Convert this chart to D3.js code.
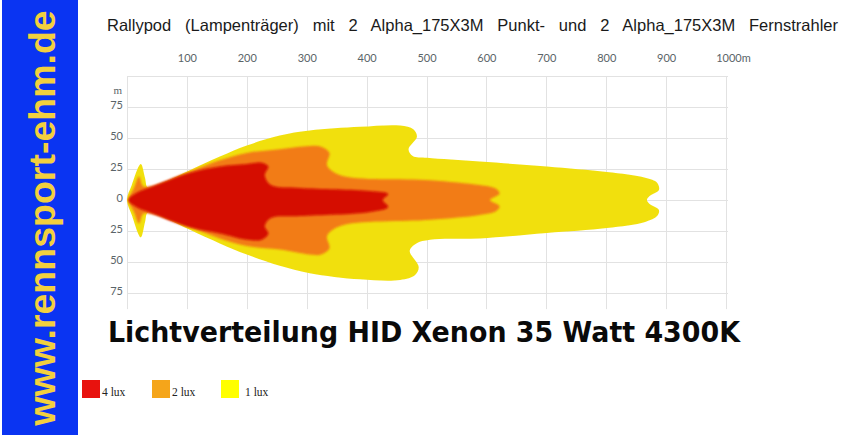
<!DOCTYPE html>
<html><head><meta charset="utf-8">
<script src="https://cdn.jsdelivr.net/npm/d3@7"></script>
<style>
html,body{margin:0;padding:0;background:#fff;}
svg{display:block;}
</style></head>
<body>
<svg id="chart" width="854" height="437"></svg>
<script>
// ---- data (distance m, lateral m) ----
const xTicks = [100,200,300,400,500,600,700,800,900,1000];
const yTicks = [-75,-50,-25,0,25,50,75];
const gridX = [0,100,200,300,400,500,600,700,800,900,1000];
const gridY = [-75,-50,-25,0,25,50,75,100];

const luxLevels = ["4 lux","2 lux","1 lux"];
const luxColors = ["#d50a02","#f27b12","#f1e00f"];
const legendColors = ["#e8120e","#f5a51a","#ffff00"];

// 1 lux contour (closed, clockwise from tip)
const yellowContour = [
 [0,0],[8,12],[23,29],[30,18],[35,10],[63,14.5],[105,24],[155,35],[200,44],[255,52],
 [305,56],[389,59],[456,60],[478,57],[484,51],[470,41],[477,35.5],[501,34],[589,31],
 [701,27],[801,22.5],[865,18],[885,14],[888,8],[872,3],[868,0],
 [872,-3],[888,-8],[885,-13],[865,-17.7],[801,-22.6],[701,-26.6],[589,-31],[506,-32],
 [483,-35],[472,-41],[487,-54],[481,-60.5],[456,-64.5],[389,-64],[305,-59],[255,-53],
 [200,-44],[155,-35],[105,-24],[63,-14.5],[35,-10],[30,-18],[23,-30],[8,-12]
];
// 2 lux contour
const orangeContour = [
 [3,0],[12,10],[20,19],[27,11],[38,11],[105,23],[155,32],[200,38],[255,41],[305,43.5],
 [324,43],[338,38],[334,28],[356,20],[506,16],[589,12],[616,9],[622,5],[606,0],
 [622,-5],[616,-9],[589,-12],[506,-16],[356,-21],[334,-29],[338,-39],[324,-44],[305,-44],
 [255,-40],[200,-37],[155,-31],[105,-22],[38,-11],[27,-11],[20,-19],[12,-10]
];
// 4 lux contour
const redContour = [
 [2,0],[17,6],[38,10],[105,22],[155,27],[200,29],[225,30],[236,27],[230,20],[240,12],
 [289,9.7],[406,7.3],[436,4.8],[427,0],[436,-5.6],[406,-9.7],[289,-13],[240,-14.5],
 [230,-21],[236,-27],[225,-32],[200,-32],[155,-27],[105,-22],[38,-10],[17,-6]
];

// ---- drawing ----
const svg = d3.select("#chart");
const x = d3.scaleLinear().domain([0,1000]).range([127,726]);
const y = d3.scaleLinear().domain([-75,75]).range([293,107]);

// left blue banner
svg.append("rect").attr("x",2).attr("y",0).attr("width",76).attr("height",435).attr("fill","#0a34f2");
svg.append("text")
  .attr("transform","translate(55,218) rotate(-90)")
  .attr("text-anchor","middle")
  .attr("font-family","Liberation Sans, Arial, sans-serif")
  .attr("font-weight","bold").attr("font-size",37.5)
  .attr("fill","#f2d03e")
  .text("www.rennsport-ehm.de");

// grid
const grid = svg.append("g").attr("stroke","#e2e2e2").attr("stroke-width",1);
grid.selectAll("line.v").data(gridX).join("line").attr("class","v")
  .attr("x1",d=>Math.round(x(d))+0.5).attr("x2",d=>Math.round(x(d))+0.5)
  .attr("y1",y(100)).attr("y2",y(-88));
grid.selectAll("line.h").data(gridY).join("line").attr("class","h")
  .attr("y1",d=>Math.round(y(d))+0.5).attr("y2",d=>Math.round(y(d))+0.5)
  .attr("x1",x(0)).attr("x2",x(1000)+2);

// light shapes
const defs = svg.append("defs");
defs.append("filter").attr("id","soft").attr("x","-5%").attr("y","-20%").attr("width","110%").attr("height","140%")
  .append("feGaussianBlur").attr("stdDeviation",1.3);
defs.append("filter").attr("id","soft2").attr("x","-5%").attr("y","-20%").attr("width","110%").attr("height","140%")
  .append("feGaussianBlur").attr("stdDeviation",0.6);

const line = d3.line().x(d=>x(d[0])).y(d=>y(d[1])).curve(d3.curveCatmullRomClosed.alpha(0.5));
const shapes = [yellowContour, orangeContour, redContour];
const order = [2,1,0];
svg.append("g").selectAll("path").data(shapes).join("path")
  .attr("d",line)
  .attr("fill",(d,i)=>luxColors[order[i]])
  .attr("filter",(d,i)=> i===0 ? "url(#soft2)" : "url(#soft)");

// axes
const xAxis = d3.axisTop(x).tickValues(xTicks).tickSize(0).tickPadding(3)
  .tickFormat(d=> d===1000 ? "1000m" : d);
const gx = svg.append("g").attr("transform","translate(0,65)").call(xAxis);
gx.select(".domain").remove();
gx.selectAll("text").attr("font-family","Lato, sans-serif").attr("font-size",11).attr("fill","#5a6468");
gx.selectAll(".tick").filter(d=>d===1000).select("text").attr("dx","7");

const yAxis = d3.axisLeft(y).tickValues(yTicks).tickSize(0).tickPadding(0)
  .tickFormat(d=>Math.abs(d));
const gy = svg.append("g").attr("transform","translate(123,-2)").call(yAxis);
gy.select(".domain").remove();
gy.selectAll("text").attr("font-family","Lato, sans-serif").attr("font-size",11).attr("fill","#5a6468");
svg.append("text").attr("x",122).attr("y",94).attr("text-anchor","end")
  .attr("font-family","Liberation Serif, serif").attr("font-size",11).attr("fill","#5a6468").text("m");

// top title
const titleText = "Rallypod (Lampenträger) mit 2 Alpha_175X3M Punkt- und 2 Alpha_175X3M Fernstrahler";
const title = svg.append("text").attr("x",107).attr("y",31)
  .attr("font-family","Liberation Sans, Arial, sans-serif").attr("font-size",16.5).attr("fill","#1a1a1a")
  .text(titleText);
const tl = title.node().getComputedTextLength();
const nSpaces = titleText.split(" ").length - 1;
title.attr("word-spacing", Math.max(0,(731 - tl)/nSpaces));

// big subtitle
svg.append("text").attr("x",108).attr("y",342)
  .attr("font-family","DejaVu Sans, Verdana, sans-serif").attr("font-weight","bold").attr("font-size",27.5)
  .attr("fill","#0a0a0a")
  .attr("textLength",632).attr("lengthAdjust","spacingAndGlyphs")
  .text("Lichtverteilung HID Xenon 35 Watt 4300K");

// legend
const legX = [82,152,221];
const lg = svg.append("g").selectAll("g").data(luxLevels).join("g")
  .attr("transform",(d,i)=>`translate(${legX[i]},380)`);
lg.append("rect").attr("width",18).attr("height",18).attr("fill",(d,i)=>legendColors[i]);
lg.append("text").attr("x",(d,i)=> i===2 ? 24 : 20).attr("y",16)
  .attr("font-family","Liberation Serif, Times New Roman, serif").attr("font-size",11.5).attr("fill","#222")
  .text(d=>d);
</script>
</body></html>
